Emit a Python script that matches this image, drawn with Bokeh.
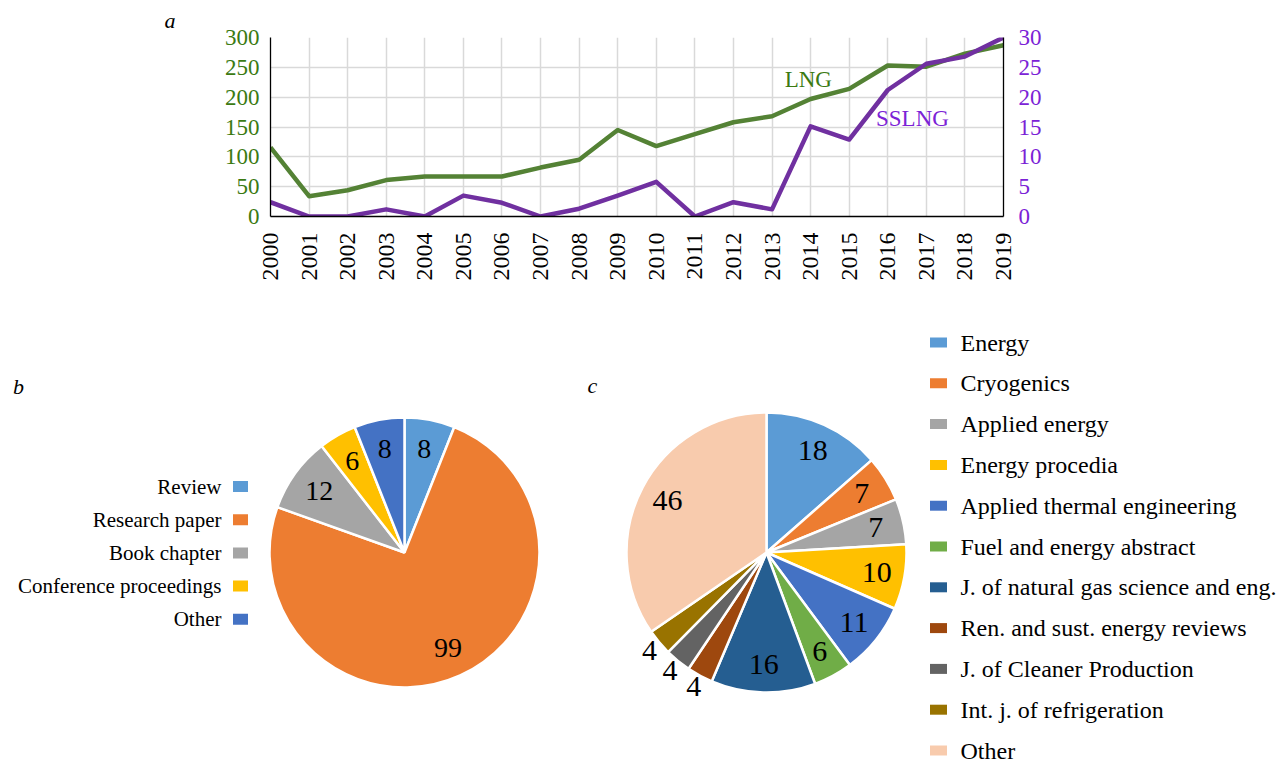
import numpy as np
from bokeh.plotting import figure
from bokeh.models import Range1d, LinearAxis, FixedTicker, Label, ColumnDataSource
from bokeh.embed import file_html
from bokeh.resources import INLINE
from bokeh.core.properties import value

# ---------------- data ----------------
years = [2000, 2001, 2002, 2003, 2004, 2005, 2006, 2007, 2008, 2009,
         2010, 2011, 2012, 2013, 2014, 2015, 2016, 2017, 2018, 2019]
year_labels = [str(y) for y in years]
lng = [116, 34, 44, 61, 67, 67, 67, 82, 95, 145,
       118, 138, 158, 168, 197, 214, 253, 251, 273, 287]
sslng = [2.4, 0, 0, 1.2, 0, 3.5, 2.3, 0, 1.3, 3.5,
         5.8, 0, 2.4, 1.2, 15.1, 12.9, 21.2, 25.6, 26.8, 30]
left_ticks = [0, 50, 100, 150, 200, 250, 300]
right_ticks = [0, 5, 10, 15, 20, 25, 30]

b_labels = ["Review", "Research paper", "Book chapter", "Conference proceedings", "Other"]
b_values = [8, 99, 12, 6, 8]
b_colors = ["#5B9BD5", "#ED7D31", "#A5A5A5", "#FFC000", "#4472C4"]

c_labels = ["Energy", "Cryogenics", "Applied energy", "Energy procedia",
            "Applied thermal engineering", "Fuel and energy abstract",
            "J. of natural gas science and eng.", "Ren. and sust. energy reviews",
            "J. of Cleaner Production", "Int. j. of refrigeration", "Other"]
c_values = [18, 7, 7, 10, 11, 6, 16, 4, 4, 4, 46]
c_colors = ["#5B9BD5", "#ED7D31", "#A5A5A5", "#FFC000", "#4472C4", "#70AD47",
            "#255E91", "#9E480E", "#636363", "#997300", "#F8CBAD"]

# ---------------- style ----------------
FONT = "Liberation Serif"
GREEN_TXT = "#3b7a12"
PURPLE_TXT = "#7b22d6"
GREEN_LINE = "#548235"
PURPLE_LINE = "#7030A0"
W = 1284

# ---------------- panel a ----------------
p1 = figure(width=W, height=300, title="a",
            x_range=Range1d(years[0], years[-1]), y_range=Range1d(0, 300),
            output_backend="svg", toolbar_location=None,
            min_border_left=270, min_border_right=281,
            min_border_top=36, min_border_bottom=84)
p1.title.text_font = FONT
p1.title.text_font_size = "22px"
p1.title.text_font_style = "italic"
p1.title.text_color = "black"
p1.title.align = "left"
p1.title.offset = -106
p1.title.standoff = 10
p1.outline_line_color = None
p1.extra_y_ranges = {"r": Range1d(0, 30)}
p1.add_layout(LinearAxis(y_range_name="r"), "right")

p1.xaxis.ticker = FixedTicker(ticks=years)
p1.xaxis.major_label_overrides = {y: s for y, s in zip(years, year_labels)}
p1.xaxis.major_label_orientation = np.pi / 2
p1.xaxis.major_label_standoff = 10
p1.yaxis[0].ticker = FixedTicker(ticks=left_ticks)
p1.yaxis[1].ticker = FixedTicker(ticks=right_ticks)

for ax in p1.axis:
    ax.axis_line_color = "black"
    ax.axis_line_width = 1.3
    ax.major_tick_line_color = None
    ax.minor_tick_line_color = None
    ax.major_label_text_font = FONT
    ax.major_label_text_font_size = "23px"
p1.xaxis.major_label_text_font_size = "24px"
p1.xaxis.major_label_text_color = "black"
p1.yaxis[0].major_label_text_color = GREEN_TXT
p1.yaxis[0].major_label_standoff = 5
p1.yaxis[1].major_label_text_color = PURPLE_TXT
p1.yaxis[1].major_label_standoff = 9

p1.xgrid.ticker = FixedTicker(ticks=years)
p1.ygrid.ticker = FixedTicker(ticks=left_ticks)
p1.grid.grid_line_color = "#d9d9d9"
p1.grid.grid_line_width = 1.5

p1.line(years, lng, line_color=GREEN_LINE, line_width=4.5, line_join="round")
p1.line(years, sslng, y_range_name="r", line_color=PURPLE_LINE, line_width=4.5,
        line_join="round")

p1.add_layout(Label(x=2013.94, y=230, text="LNG", text_font=FONT, text_font_size="23px",
                    text_color=GREEN_TXT, text_align="center", text_baseline="middle"))
p1.add_layout(Label(x=2016.64, y=165, text="SSLNG", text_font=FONT, text_font_size="23px",
                    text_color=PURPLE_TXT, text_align="center", text_baseline="middle"))

# ---------------- panels b and c ----------------
PAGE_H = 765
p2 = figure(width=W, height=465, title=None,
            x_range=Range1d(0, W), y_range=Range1d(0, 465),
            x_axis_location=None, y_axis_location=None,
            output_backend="svg", toolbar_location=None, min_border=0)
p2.outline_line_color = None
p2.grid.grid_line_color = None


def py(page_y):
    return PAGE_H - page_y


def pie(p, vals, colors, cx, cy, R, inner_f, outer_f, small, fsize):
    v = np.array(vals, dtype=float)
    tot = v.sum()
    cum = np.cumsum(v)
    start = np.pi / 2 - 2 * np.pi * (cum - v) / tot
    end = np.pi / 2 - 2 * np.pi * cum / tot
    mid = (start + end) / 2
    src = ColumnDataSource(dict(x=[cx] * len(v), y=[cy] * len(v), s=start, e=end, c=colors))
    p.wedge(x="x", y="y", radius=R, start_angle="s", end_angle="e", direction="clock",
            fill_color="c", line_color="white", line_width=2.5, source=src)
    rl = np.where(v <= small, outer_f, inner_f) * R
    p.text(x=cx + rl * np.cos(mid), y=cy + rl * np.sin(mid), text=[str(int(x)) for x in vals],
           text_align="center", text_baseline="middle", text_font=value(FONT),
           text_font_size=fsize, text_color="black")


pie(p2, b_values, b_colors, 404, py(552), 135, 0.78, 0.78, 0, "28px")
pie(p2, c_values, c_colors, 766, py(552), 140, 0.8, 1.09, 4, "30px")

# legend b (text left of squares)
b_y = [py(486 + 33.2 * i) for i in range(len(b_labels))]
p2.rect(x=[240] * len(b_labels), y=b_y, width=15, height=11, fill_color=b_colors, line_color=None)
p2.text(x=[221] * len(b_labels), y=b_y, text=b_labels, text_align="right", text_baseline="middle",
        text_font=value(FONT), text_font_size="21px", text_color="black")

# legend c (squares left of text)
c_y = [py(342 + 40.8 * i) for i in range(len(c_labels))]
p2.rect(x=[938] * len(c_labels), y=c_y, width=17, height=10, fill_color=c_colors, line_color=None)
p2.text(x=[960] * len(c_labels), y=c_y, text=c_labels, text_align="left", text_baseline="middle",
        text_font=value(FONT), text_font_size="24px", text_color="black")

p2.text(x=[18, 592], y=[py(386), py(385)], text=["b", "c"], text_align="center",
        text_baseline="middle", text_font=value(FONT), text_font_size="22px",
        text_font_style="italic", text_color="black")

open("out.html", "w").write(file_html([p1, p2], INLINE))
